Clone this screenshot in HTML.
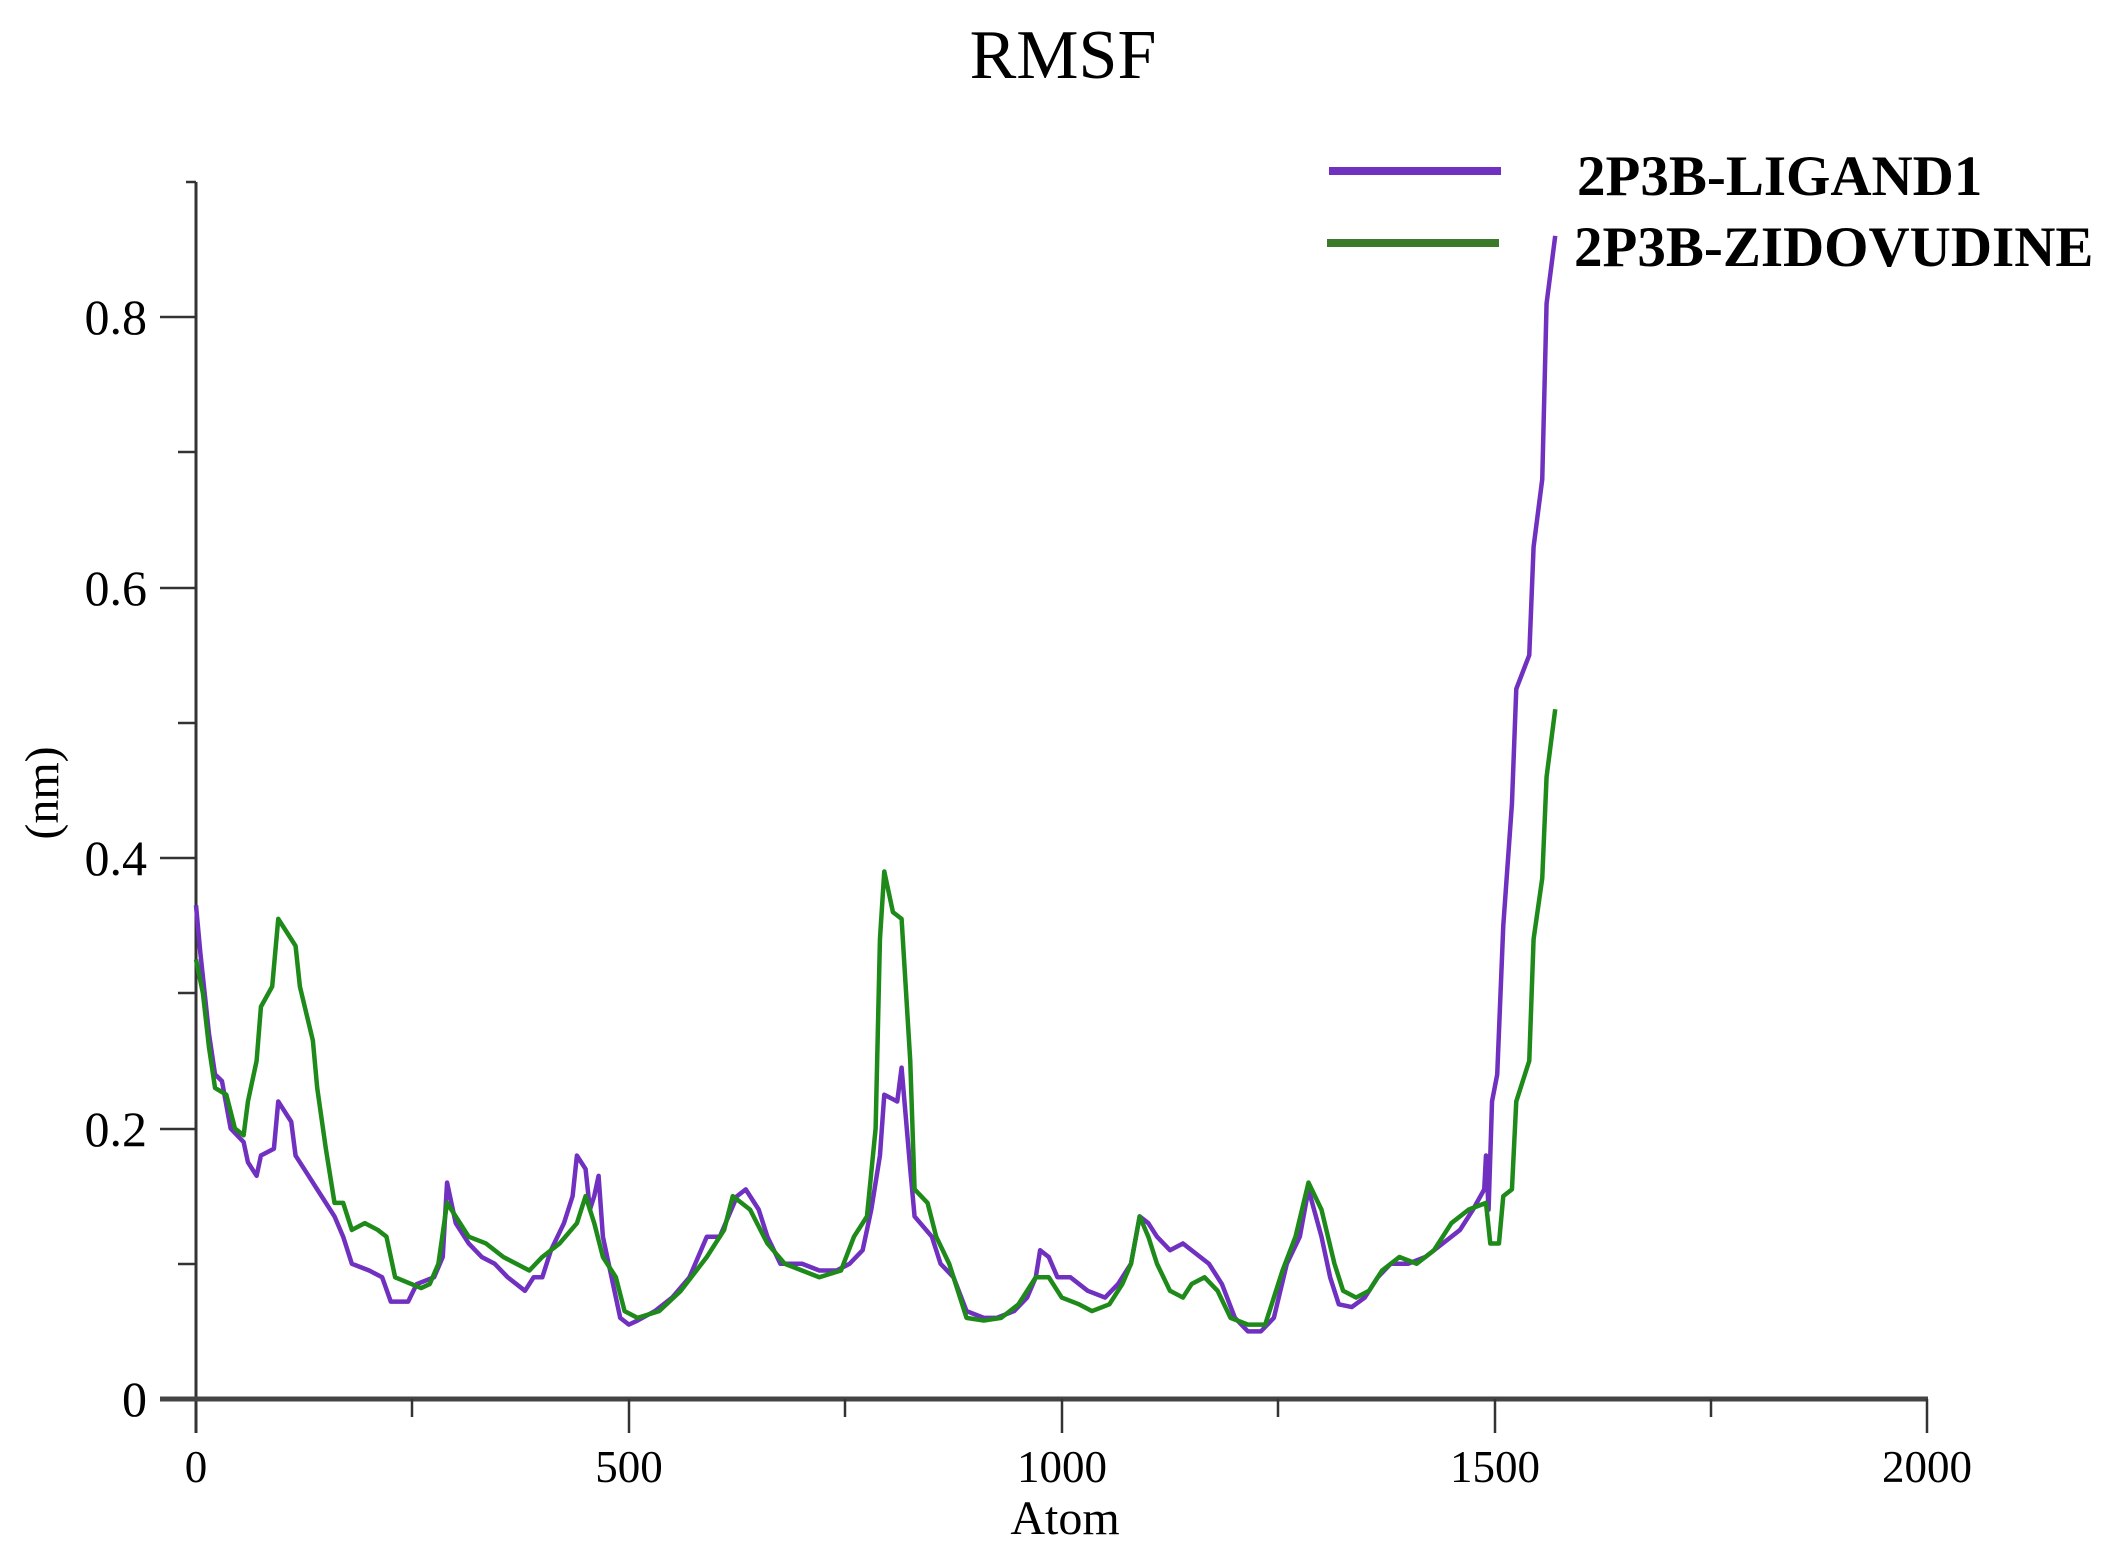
<!DOCTYPE html>
<html><head><meta charset="utf-8"><style>
html,body{margin:0;padding:0;background:#fff;}
svg{display:block;}
text{font-family:"Liberation Serif",serif;fill:#000;}
</style></head><body>
<svg width="2122" height="1548" viewBox="0 0 2122 1548" xmlns="http://www.w3.org/2000/svg">
<text x="1063" y="78" font-size="70" text-anchor="middle">RMSF</text>
<!-- axes -->
<line x1="196" y1="182" x2="196" y2="1433" stroke="#333" stroke-width="3"/>
<line x1="160" y1="1399" x2="1928" y2="1399" stroke="#444" stroke-width="5"/>
<g stroke="#333" stroke-width="2.5">
<line x1="196" y1="182" x2="186" y2="182"/>
<line x1="160" y1="317" x2="196" y2="317"/>
<line x1="160" y1="588" x2="196" y2="588"/>
<line x1="160" y1="858" x2="196" y2="858"/>
<line x1="160" y1="1129" x2="196" y2="1129"/>
<line x1="178" y1="452" x2="196" y2="452"/>
<line x1="178" y1="723" x2="196" y2="723"/>
<line x1="178" y1="993" x2="196" y2="993"/>
<line x1="178" y1="1264" x2="196" y2="1264"/>
<line x1="629" y1="1399" x2="629" y2="1433"/>
<line x1="1062" y1="1399" x2="1062" y2="1433"/>
<line x1="1495" y1="1399" x2="1495" y2="1433"/>
<line x1="1927" y1="1399" x2="1927" y2="1433"/>
<line x1="412" y1="1399" x2="412" y2="1417"/>
<line x1="845" y1="1399" x2="845" y2="1417"/>
<line x1="1278" y1="1399" x2="1278" y2="1417"/>
<line x1="1711" y1="1399" x2="1711" y2="1417"/>
</g>
<g font-size="50" text-anchor="end">
<text x="147" y="334">0.8</text>
<text x="147" y="605">0.6</text>
<text x="147" y="875">0.4</text>
<text x="147" y="1146">0.2</text>
<text x="147" y="1416">0</text>
</g>
<g font-size="45" text-anchor="middle">
<text x="196" y="1482">0</text>
<text x="629" y="1482">500</text>
<text x="1062" y="1482">1000</text>
<text x="1495" y="1482">1500</text>
<text x="1927" y="1482">2000</text>
</g>
<text x="1065" y="1534" font-size="48" text-anchor="middle">Atom</text>
<text transform="translate(58,793) rotate(-90)" font-size="48" text-anchor="middle">(nm)</text>
<!-- legend -->
<line x1="1329" y1="171" x2="1501" y2="171" stroke="#7030c0" stroke-width="8"/>
<line x1="1327" y1="243" x2="1499" y2="243" stroke="#3a7a28" stroke-width="8"/>
<text x="1577" y="195" font-size="57" font-weight="bold">2P3B-LIGAND1</text>
<text x="1574" y="266" font-size="57" font-weight="bold">2P3B-ZIDOVUDINE</text>
<g transform="translate(196,1399) scale(0.86575,-1352.5)" fill="none" stroke-linejoin="round">
<polyline vector-effect="non-scaling-stroke" stroke="#7030c0" stroke-width="4.5" points="0,0.365 5,0.33 15,0.27 22,0.24 30,0.235 40,0.2 55,0.19 60,0.175 70,0.165 75,0.18 90,0.185 95,0.22 110,0.205 115,0.18 130,0.165 140,0.155 150,0.145 160,0.135 170,0.12 180,0.1 200,0.095 215,0.09 225,0.072 245,0.072 255,0.085 275,0.09 285,0.105 290,0.16 300,0.13 315,0.115 330,0.105 345,0.1 360,0.09 380,0.08 390,0.09 400,0.09 410,0.11 425,0.13 435,0.15 440,0.18 450,0.17 455,0.14 460,0.15 465,0.165 470,0.12 480,0.09 490,0.06 500,0.055 510,0.058 530,0.065 550,0.075 570,0.09 590,0.12 605,0.12 625,0.15 635,0.155 650,0.14 660,0.12 675,0.1 700,0.1 720,0.095 740,0.095 755,0.1 770,0.11 780,0.14 790,0.18 795,0.225 810,0.22 815,0.245 825,0.17 830,0.135 850,0.12 860,0.1 875,0.09 890,0.065 910,0.06 925,0.06 945,0.065 960,0.075 970,0.09 975,0.11 985,0.105 995,0.09 1010,0.09 1030,0.08 1050,0.075 1065,0.085 1080,0.1 1090,0.135 1100,0.13 1110,0.12 1125,0.11 1140,0.115 1150,0.11 1170,0.1 1185,0.085 1200,0.06 1215,0.05 1230,0.05 1245,0.06 1260,0.1 1275,0.12 1285,0.155 1300,0.12 1310,0.09 1320,0.07 1335,0.068 1350,0.075 1365,0.09 1380,0.1 1400,0.1 1420,0.105 1440,0.115 1460,0.125 1475,0.14 1488,0.155 1490,0.18 1493,0.14 1497,0.22 1503,0.24 1510,0.35 1520,0.44 1525,0.525 1540,0.55 1545,0.63 1555,0.68 1560,0.81 1570,0.86"/>
<polyline vector-effect="non-scaling-stroke" stroke="#1e8a1a" stroke-width="4.5" points="0,0.325 8,0.3 15,0.26 22,0.23 35,0.225 45,0.2 55,0.195 60,0.22 70,0.25 75,0.29 88,0.305 95,0.355 105,0.345 115,0.335 120,0.305 135,0.265 140,0.23 150,0.185 160,0.145 170,0.145 180,0.125 195,0.13 210,0.125 220,0.12 230,0.09 260,0.082 270,0.085 280,0.1 290,0.145 300,0.135 315,0.12 335,0.115 355,0.105 370,0.1 385,0.095 400,0.105 420,0.115 440,0.13 450,0.15 460,0.13 470,0.105 485,0.09 495,0.065 510,0.06 535,0.065 560,0.08 590,0.105 610,0.125 620,0.15 640,0.14 660,0.115 680,0.1 700,0.095 720,0.09 745,0.095 760,0.12 775,0.135 785,0.2 790,0.34 795,0.39 805,0.36 815,0.355 825,0.25 830,0.155 845,0.145 855,0.12 870,0.1 890,0.06 910,0.058 930,0.06 950,0.07 970,0.09 985,0.09 1000,0.075 1020,0.07 1035,0.065 1055,0.07 1070,0.085 1080,0.1 1090,0.135 1100,0.12 1110,0.1 1125,0.08 1140,0.075 1150,0.085 1165,0.09 1180,0.08 1195,0.06 1215,0.055 1235,0.055 1255,0.095 1270,0.12 1285,0.16 1300,0.14 1315,0.1 1325,0.08 1340,0.075 1355,0.08 1370,0.095 1390,0.105 1410,0.1 1430,0.11 1450,0.13 1470,0.14 1490,0.145 1495,0.115 1505,0.115 1510,0.15 1520,0.155 1525,0.22 1540,0.25 1545,0.34 1555,0.385 1560,0.46 1570,0.51"/>
</g>
</svg>
</body></html>
